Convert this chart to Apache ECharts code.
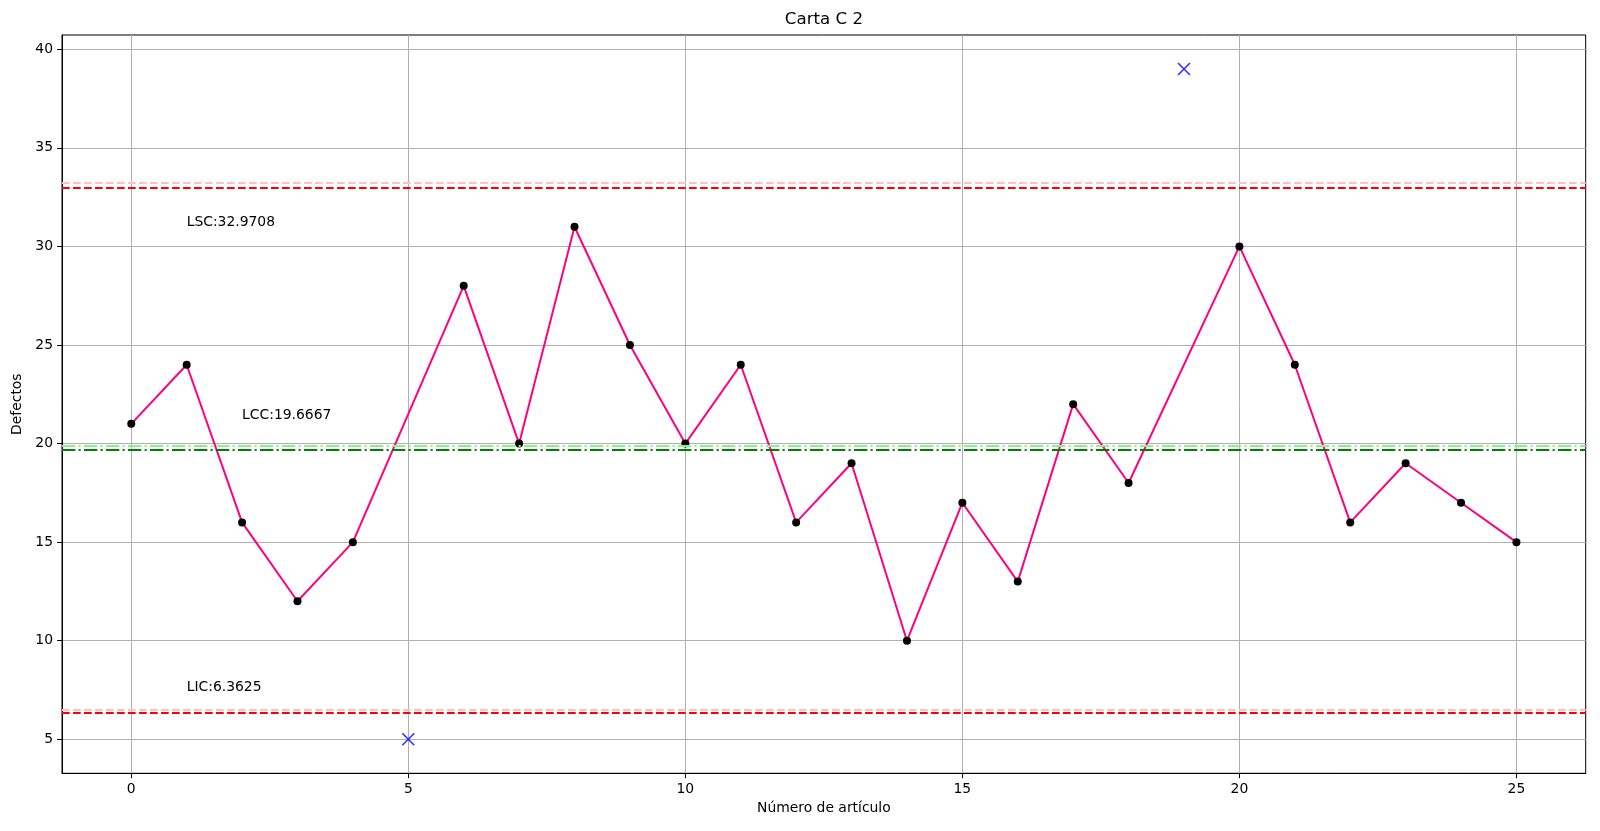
<!DOCTYPE html>
<html>
<head>
<meta charset="utf-8">
<script src="https://cdn.jsdelivr.net/npm/echarts@6/dist/echarts.min.js"></script>
<style>
html,body{margin:0;padding:0;background:#fff;}
#c{width:1600px;height:831px;}
</style>
</head>
<body>
<div id="c"></div>
<script>
// ---- data ----
const items = [0,1,2,3,4,5,6,7,8,9,10,11,12,13,14,15,16,17,18,19,20,21,22,23,24,25];
const defects = [21,24,16,12,15,5,28,20,31,25,20,24,16,19,10,17,13,22,18,39,30,24,16,19,17,15];
const outlierIdx = [5,19];
const LSC = 32.9708, LCC = 19.6667, LIC = 6.3625;
const LSC2 = 33.21, LCC2 = 19.88, LIC2 = 6.48;   // light secondary limits
const xTicks = [0,5,10,15,20,25];
const yTicks = [5,10,15,20,25,30,35,40];
const labelTexts = ['LSC:32.9708','LCC:19.6667','LIC:6.3625'];
const labelAnchors = [[1, LSC-2],[2, LCC+1.5],[1, LIC+1]];

const inCtrl = [], outCtrl = [];
items.forEach((x,i)=>{ (outlierIdx.includes(i)?outCtrl:inCtrl).push([x, defects[i]]); });

const FONT = 'DejaVu Sans';
const chart = echarts.init(document.getElementById('c'), null, {renderer:'canvas'});

function hline(v, color, type){
  return {yAxis:v, lineStyle:{color:color, width:2, type:type}};
}
const dash = [7.7,3.3];
const dashdot = [13.3,3.3,2.1,3.3];
const lbl = {fontFamily:FONT, fontSize:13.9, color:'#000'};

chart.setOption({
  animation:false,
  backgroundColor:'#fff',
  title:{text:'Carta C 2', left:824, top:11, textAlign:'center', padding:0,
    textStyle:{fontFamily:FONT, fontSize:16.7, fontWeight:'normal', color:'#000'}},
  grid:{left:62, right:14.3, top:35, bottom:57.7, show:true, borderColor:'#000', borderWidth:1, backgroundColor:'transparent'},
  xAxis:{type:'value', min:-1.25, max:26.25,
    name:'Número de artículo', nameLocation:'middle', nameGap:27,
    nameTextStyle:{fontFamily:FONT, fontSize:13.9, color:'#000', verticalAlign:'top'},
    axisLine:{show:true, onZero:false, lineStyle:{color:'#000', width:1}},
    axisTick:{show:true, length:4.9, lineStyle:{color:'#000'}, customValues:xTicks},
    axisLabel:{fontFamily:FONT, fontSize:13.9, color:'#000', margin:9, customValues:xTicks},
    splitLine:{show:true, lineStyle:{color:'#b0b0b0', width:1}}},
  yAxis:{type:'value', min:3.275, max:40.725,
    name:'Defectos', nameLocation:'middle', nameGap:34,
    nameTextStyle:{fontFamily:FONT, fontSize:13.9, color:'#000'},
    axisLine:{show:true, onZero:false, lineStyle:{color:'#000', width:1}},
    axisTick:{show:true, length:4.9, lineStyle:{color:'#000'}, customValues:yTicks},
    axisLabel:{fontFamily:FONT, fontSize:13.9, color:'#000', margin:9, customValues:yTicks},
    splitLine:{show:true, lineStyle:{color:'#b0b0b0', width:1}}},
  series:[
    {type:'line', data:[], z:3, silent:true,
      markLine:{symbol:'none', silent:true, label:{show:false}, animation:false,
        data:[hline(LSC2,'#ffc0cb',dash), hline(LIC2,'#ffc0cb',dash), hline(LCC2,'#90ee90',dashdot),
              hline(LSC,'#ff0000',dash), hline(LIC,'#ff0000',dash), hline(LCC,'#008000',dashdot)]}},
    {type:'line', data:inCtrl, z:4, symbol:'circle', symbolSize:8,
      lineStyle:{color:'#ff0080', width:2},
      itemStyle:{color:'#000', borderWidth:0}},
    {type:'scatter', data:outCtrl, z:5, symbol:'path://M0,0L10,10M10,0L0,10', symbolSize:12,
      itemStyle:{color:'rgba(0,0,0,0)', borderColor:'#0000ff', borderWidth:1.6}},
    {type:'scatter', z:6, symbolSize:0, silent:true,
      data:labelAnchors.map((p,i)=>({value:p, label:Object.assign({show:true, formatter:labelTexts[i], position:'right', distance:0, offset:[0,-5]}, lbl)})),
      label:Object.assign({position:'right', distance:0, offset:[0,-5]}, lbl),
      itemStyle:{color:'#000', opacity:1}}
  ]
});
</script>
</body>
</html>
